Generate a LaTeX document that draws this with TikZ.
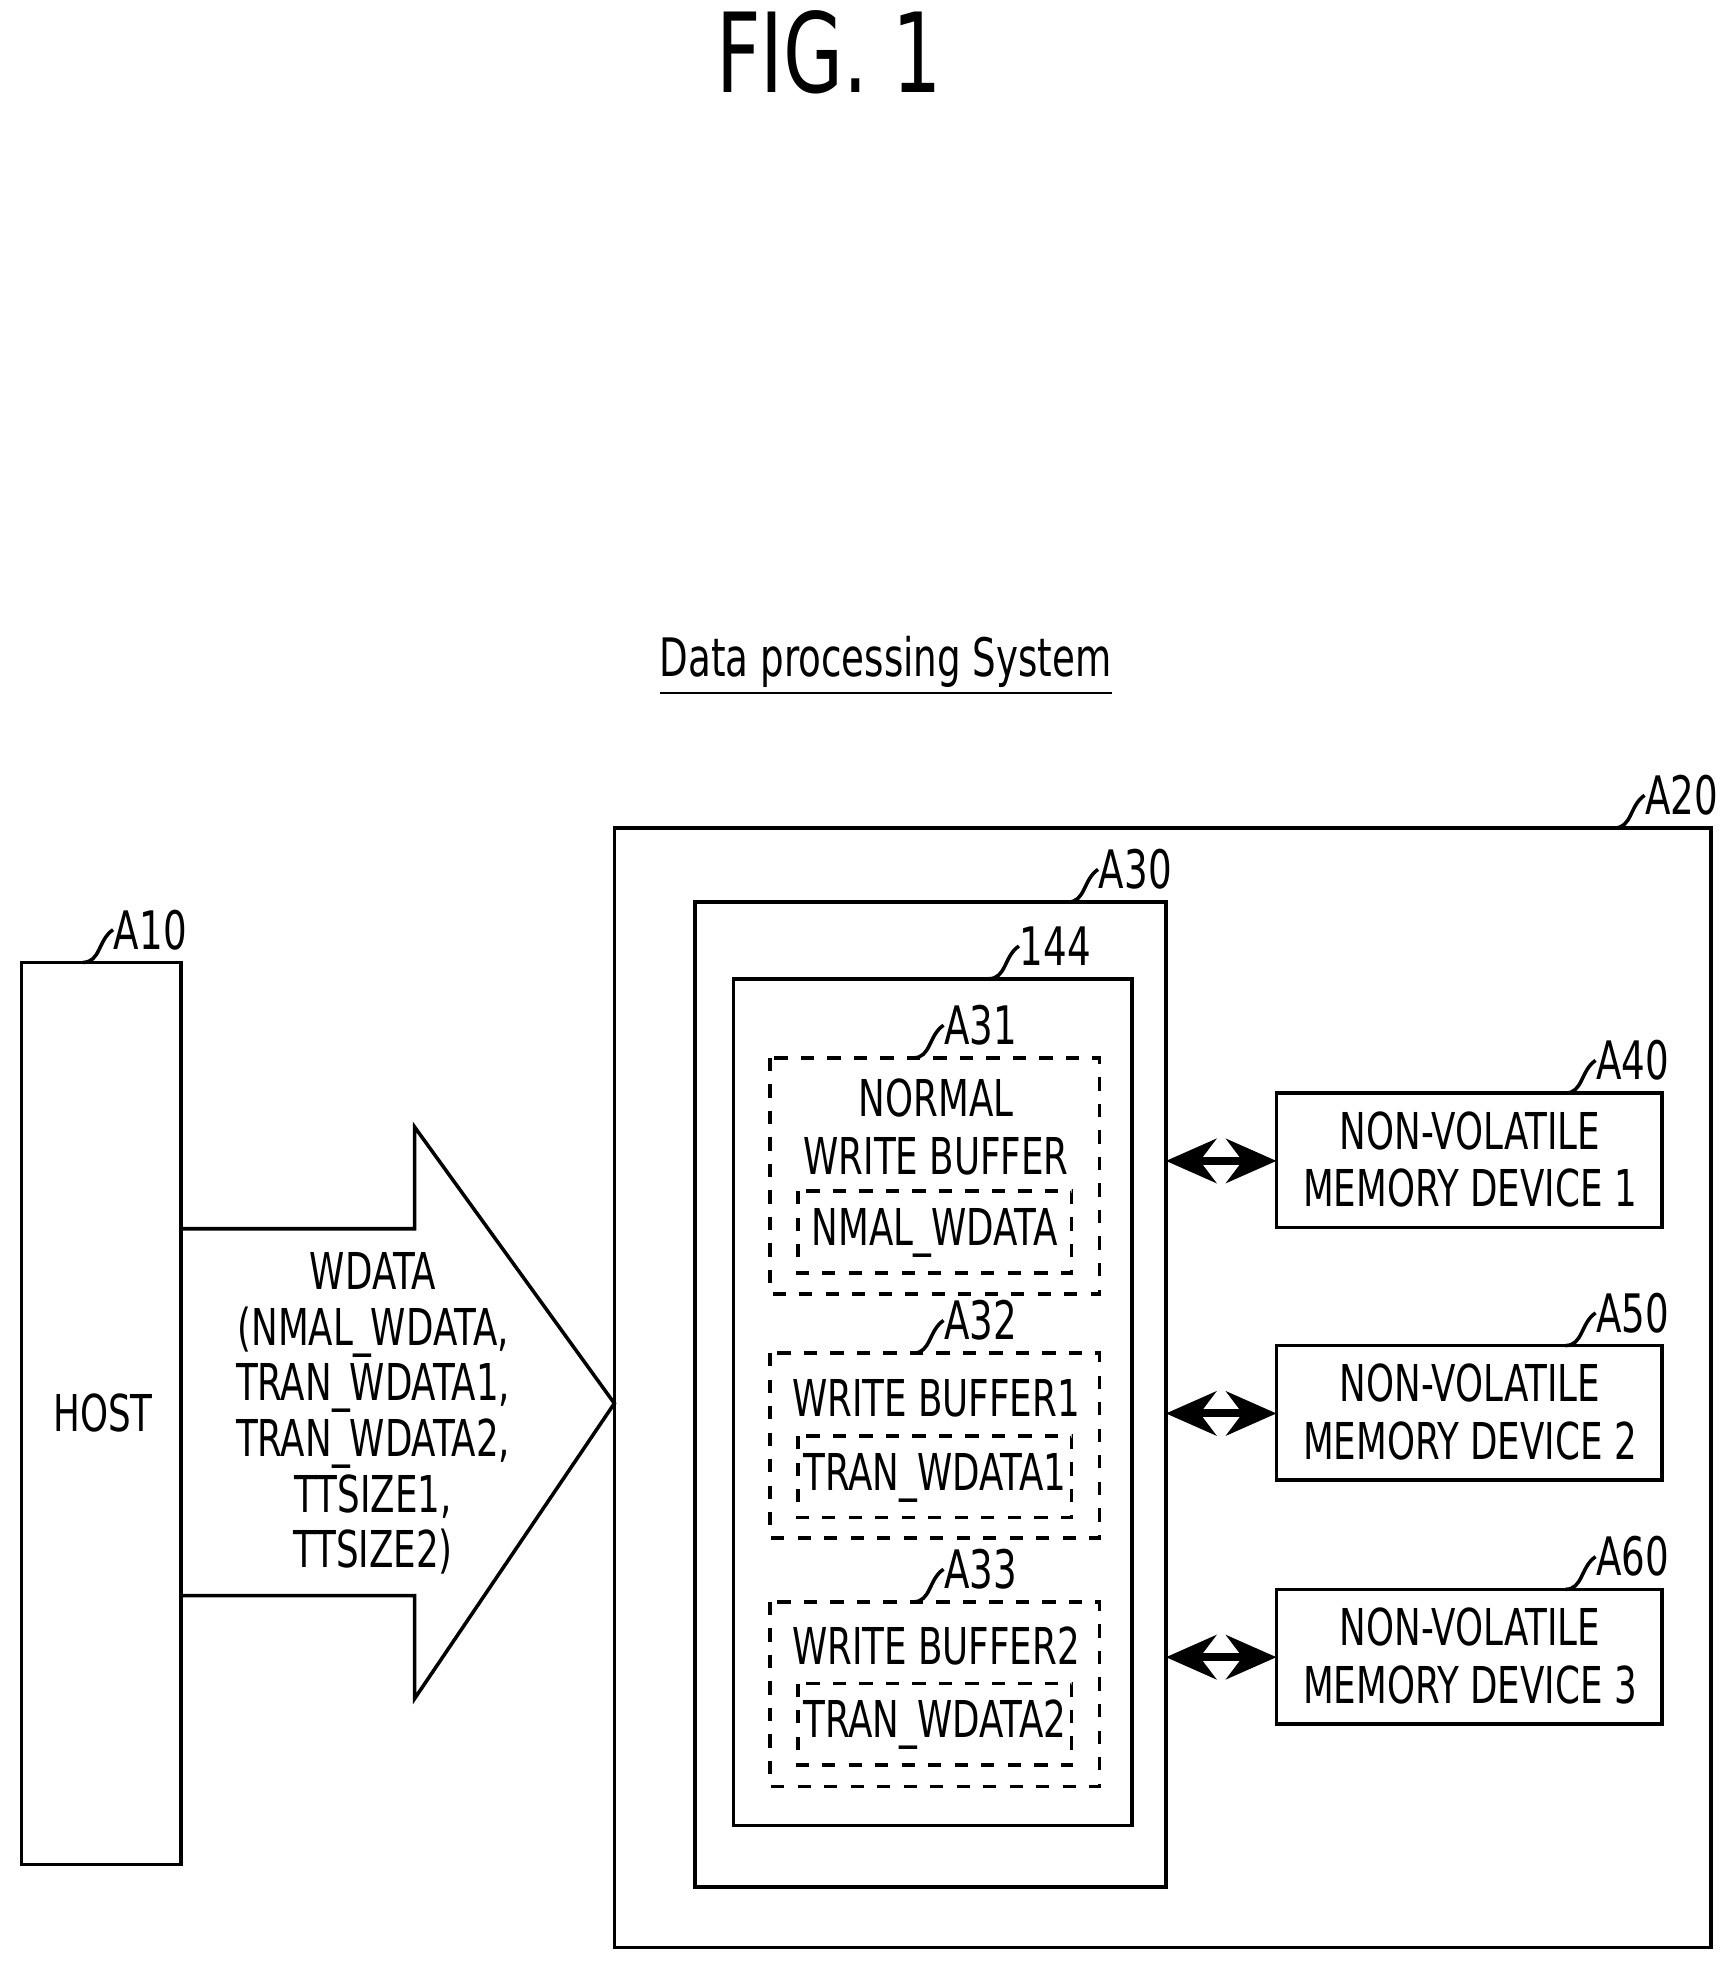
\documentclass[tikz,border=0pt]{standalone}
\usepackage{fontspec}
\setmainfont{DejaVu Sans Condensed}[FakeStretch=0.78]
\usetikzlibrary{arrows.meta,positioning}

\tikzset{
  dbox/.style={draw,thick,dashed},
  txt/.style={font=\fontsize{11.5}{13}\selectfont,align=center,inner sep=0pt},
  ref/.style={font=\fontsize{12}{14}\selectfont,inner sep=0pt,anchor=west},
  link/.style={{Stealth[length=4mm,width=3.5mm]}-{Stealth[length=4mm,width=3.5mm]},line width=1.8pt}
}

\newcommand{\refmark}[3]{% start coordinate name, node name, text
  \node[ref] (#2) at ([shift={(24,-26)}]#1) {#3};
  \draw[thick] (#1) .. controls +(14,0) and +(-12,8) .. (#2.west);
}

\begin{document}
\begin{tikzpicture}[x=0.01cm,y=-0.01cm]
\useasboundingbox (0,0) rectangle (1380,1568);

\node[font=\fontsize{25}{28}\selectfont] (fig) at (660,42) {FIG. 1};
\node[font=\fontsize{12}{14}\selectfont] (dps) at (705,530) {\underline{Data processing System}};

% outer boxes
\draw[thick] (489,659) rectangle (1362,1550);
\coordinate (a20c) at (1285,659);
\refmark{a20c}{a20}{A20}
\draw[thick] (553,718) rectangle (928,1502);
\coordinate (a30c) at (850,718);
\refmark{a30c}{a30}{A30}
\draw[thick] (584,779) rectangle (901,1453);
\coordinate (c144) at (787,779);
\refmark{c144}{l144}{144}

% write buffers
\draw[dbox] (613,842) rectangle (875,1030);
\coordinate (a31c) at (727,842);
\refmark{a31c}{a31}{A31}
\node[txt] (nwb) at (745,897) {NORMAL\\WRITE BUFFER};
\draw[dbox] (635,948) rectangle (853,1013);
\node[txt] (nmal) at (744,981) {NMAL\_WDATA};

\draw[dbox] (613,1077) rectangle (875,1224);
\coordinate (a32c) at (727,1077);
\refmark{a32c}{a32}{A32}
\node[txt] (wb1) at (745,1113) {WRITE BUFFER1};
\draw[dbox] (635,1143) rectangle (853,1208);
\node[txt] (tw1) at (744,1176) {TRAN\_WDATA1};

\draw[dbox] (613,1275) rectangle (875,1422);
\coordinate (a33c) at (727,1275);
\refmark{a33c}{a33}{A33}
\node[txt] (wb2) at (745,1310) {WRITE BUFFER2};
\draw[dbox] (635,1340) rectangle (853,1405);
\node[txt] (tw2) at (744,1373) {TRAN\_WDATA2};

% memory devices
\foreach \y/\n/\r in {870/1/A40,1071/2/A50,1265/3/A60}
{
  \draw[thick] (1016,\y) rectangle (1323,\y+107);
  \node[txt] (nvm\n) at (1170,\y+53) {NON-VOLATILE\\MEMORY DEVICE \n};
  \coordinate (nvc\n) at (1246,\y);
  \refmark{nvc\n}{lab\n}{\r}
  \coordinate (pl\n) at (928,\y+54);
  \coordinate (pr\n) at (1016,\y+54);
  \draw[link] (pl\n) -- (pr\n);
}

% host
\draw[thick] (17,766) rectangle (144,1484);
\coordinate (a10c) at (66,766);
\refmark{a10c}{a10}{A10}
\node[txt] (host) at (82,1125) {HOST};

% data arrow
\draw[thick] (144,978) -- (330,978) -- (330,897) -- (489,1117) -- (330,1352)
  -- (330,1270) -- (144,1270);
\node[txt,font=\fontsize{11.5}{12.6}\selectfont] (wdata) at (297,1125)
  {WDATA\\(NMAL\_WDATA,\\TRAN\_WDATA1,\\TRAN\_WDATA2,\\TTSIZE1,\\TTSIZE2)};

\end{tikzpicture}
\end{document}
